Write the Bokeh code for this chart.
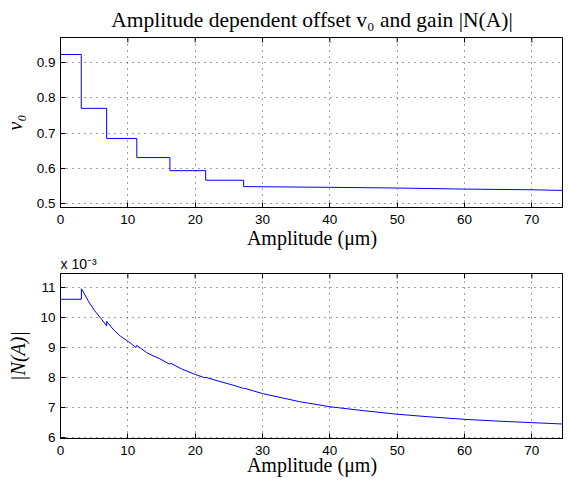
from bokeh.plotting import figure
from bokeh.layouts import column
from bokeh.models import FixedTicker, Range1d
from bokeh.embed import file_html
from bokeh.resources import INLINE

# ---- data ----
amp_v0 = [0, 3.08, 3.08, 6.85, 6.85, 11.33, 11.33, 16.25, 16.25, 21.56, 21.56,
          27.2, 27.2, 40, 50, 60, 70, 75]
v0 = [0.922, 0.922, 0.770, 0.770, 0.685, 0.685, 0.631, 0.631, 0.594, 0.594,
      0.567, 0.567, 0.549, 0.547, 0.545, 0.542, 0.540, 0.538]

amp_n = [0, 3.1, 3.1, 3.5, 4.1, 5.06, 6.03, 6.85, 6.85, 7.96, 8.93, 10.13, 11.2,
         11.3, 12.8, 13.75, 14.7, 16.2, 16.3, 18, 20, 21.4, 21.6, 23.4, 25.5,
         27.2, 27.3, 30, 35.5, 40, 45, 50, 55, 60, 65, 70, 75]
n_gain_e3 = [10.62, 10.62, 10.97, 10.82, 10.57, 10.24, 9.97, 9.73, 9.88, 9.58,
             9.38, 9.20, 9.01, 9.08, 8.84, 8.73, 8.64, 8.45, 8.49, 8.29, 8.11,
             8.0, 8.01, 7.89, 7.76, 7.64, 7.65, 7.47, 7.2, 7.03, 6.9, 6.78,
             6.69, 6.61, 6.55, 6.50, 6.45]

x_ticks = [0, 10, 20, 30, 40, 50, 60, 70]
v0_ticks = [0.5, 0.6, 0.7, 0.8, 0.9]
n_ticks = [6, 7, 8, 9, 10, 11]

X_RANGE = (0, 74.7)
V0_RANGE = (0.49, 0.97)
N_RANGE = (5.97, 11.48)

TITLE = "Amplitude dependent offset v\u2080 and gain |N(A)|"
XLABEL = "Amplitude (\u03bcm)"
SCALE_NOTE = "x 10\u207b\u00b3"

SANS = "Liberation Sans"
SERIF = "Liberation Serif"


def style(p, yticks, ylabel, yrange, label_standoff):
    p.outline_line_color = "black"
    p.outline_line_width = 1
    p.xaxis.ticker = FixedTicker(ticks=x_ticks)
    p.yaxis.ticker = FixedTicker(ticks=yticks)
    for ax in (p.xaxis[0], p.yaxis[0]):
        ax.major_tick_in = 5
        ax.major_tick_out = 0
        ax.minor_tick_line_color = None
        ax.axis_line_color = "black"
        ax.major_tick_line_color = "black"
        ax.major_label_text_font = SANS
        ax.major_label_text_font_size = "13.5px"
        ax.major_label_text_color = "black"
        ax.axis_label_text_font = SERIF
        ax.axis_label_text_font_size = "20px"
        ax.axis_label_text_color = "black"
    p.xaxis.axis_label = XLABEL
    p.xaxis.axis_label_text_font_style = "normal"
    p.xaxis.major_label_standoff = 7
    p.xaxis.axis_label_standoff = label_standoff
    p.yaxis.axis_label = ylabel
    p.yaxis.axis_label_text_font_style = "italic"
    p.yaxis.major_label_standoff = 5
    p.yaxis.axis_label_standoff = 8
    for g in (p.xgrid[0], p.ygrid[0]):
        g.grid_line_color = "#222222"
        g.grid_line_dash = "1 5"
        g.grid_line_width = 1
        g.grid_line_alpha = 0.85
    p.xgrid.ticker = FixedTicker(ticks=x_ticks)
    p.ygrid.ticker = FixedTicker(ticks=yticks)
    # tick marks along the top edge of the box (inner half of a dash marker)
    p.scatter(x=x_ticks, y=[yrange[1]] * len(x_ticks), marker="dash",
              angle=1.5708, size=10, line_color="black", line_width=1)


W = 563
H1 = 251
H2 = 478 - H1

p1 = figure(width=W, height=H1, output_backend="svg", toolbar_location=None,
            x_range=Range1d(*X_RANGE), y_range=Range1d(*V0_RANGE),
            min_border_left=47, min_border_right=0, min_border_top=0,
            min_border_bottom=0, title=TITLE)
p1.title.text_font = SERIF
p1.title.text_font_size = "21.5px"
p1.title.text_font_style = "normal"
p1.title.align = "center"
p1.title.text_color = "black"
p1.title.standoff = 11
style(p1, v0_ticks, "v\u2080", V0_RANGE, 0)
p1.line(amp_v0, v0, line_color="#0000ff", line_width=1)

p2 = figure(width=W, height=H2, output_backend="svg", toolbar_location=None,
            x_range=Range1d(*X_RANGE), y_range=Range1d(*N_RANGE),
            min_border_left=47, min_border_right=0, min_border_top=0,
            min_border_bottom=0, title=SCALE_NOTE)
p2.title.text_font = SANS
p2.title.text_font_size = "14px"
p2.title.text_font_style = "normal"
p2.title.align = "left"
p2.title.text_color = "black"
p2.title.standoff = 4
style(p2, n_ticks, "|N(A)|", N_RANGE, -4)
p2.line(amp_n, n_gain_e3, line_color="#0000ff", line_width=1)

for p in (p1, p2):
    p.background_fill_color = "white"
    p.border_fill_color = "white"

layout = column(p1, p2, spacing=0)
open("out.html", "w").write(file_html(layout, INLINE))
